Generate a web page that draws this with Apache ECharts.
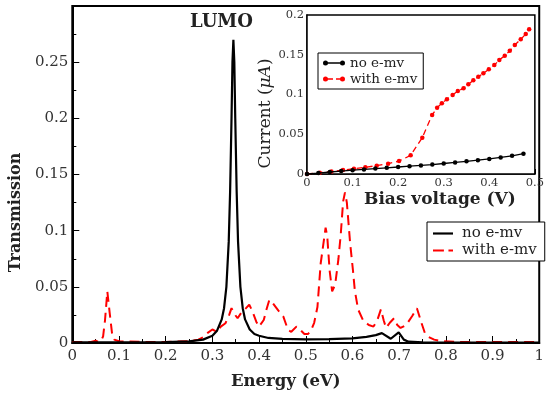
<!DOCTYPE html>
<html>
<head>
<meta charset="utf-8">
<script src="https://cdn.jsdelivr.net/npm/echarts@6/dist/echarts.min.js"></script>
<style>html,body{margin:0;padding:0;background:#fff}#c{width:547px;height:399px}</style>
</head>
<body>
<div id="c"></div>
<script>
// main panel: transmission vs energy
const energyNoEmv = [0, 0.1, 0.2, 0.25, 0.28, 0.3, 0.31, 0.32, 0.325, 0.33, 0.335, 0.338, 0.341, 0.343, 0.345, 0.347, 0.349, 0.352, 0.355, 0.36, 0.365, 0.37, 0.38, 0.39, 0.4, 0.42, 0.45, 0.5, 0.55, 0.6, 0.63, 0.65, 0.663, 0.682, 0.699, 0.71, 0.72, 0.75, 0.8, 1.0];
const transNoEmv = [0.0005, 0.0005, 0.0008, 0.0015, 0.003, 0.0065, 0.011, 0.021, 0.031, 0.05, 0.09, 0.135, 0.2, 0.25, 0.27, 0.25, 0.2, 0.135, 0.09, 0.05, 0.031, 0.021, 0.012, 0.008, 0.0065, 0.0045, 0.0037, 0.0033, 0.0034, 0.0042, 0.0055, 0.007, 0.0088, 0.0038, 0.0095, 0.003, 0.0012, 0.0005, 0.0004, 0.0003];
const energyEmv = [0, 0.04, 0.05, 0.056, 0.062, 0.066, 0.07, 0.075, 0.08, 0.085, 0.09, 0.1, 0.15, 0.2, 0.25, 0.27, 0.28, 0.29, 0.3, 0.31, 0.318, 0.328, 0.336, 0.341, 0.347, 0.354, 0.362, 0.372, 0.379, 0.385, 0.394, 0.4, 0.41, 0.416, 0.422, 0.429, 0.441, 0.452, 0.462, 0.469, 0.48, 0.49, 0.497, 0.505, 0.512, 0.518, 0.525, 0.532, 0.5425, 0.546, 0.551, 0.5565, 0.563, 0.57, 0.575, 0.58, 0.584, 0.588, 0.595, 0.601, 0.605, 0.612, 0.623, 0.635, 0.645, 0.653, 0.661, 0.667, 0.672, 0.68, 0.689, 0.696, 0.703, 0.715, 0.728, 0.738, 0.748, 0.755, 0.762, 0.775, 0.79, 0.82, 0.9, 1.0];
const transEmv = [0.001, 0.001, 0.002, 0.001, 0.002, 0.006, 0.02, 0.046, 0.027, 0.009, 0.003, 0.0015, 0.001, 0.001, 0.0015, 0.003, 0.005, 0.009, 0.012, 0.01, 0.0146, 0.0176, 0.025, 0.031, 0.026, 0.022, 0.027, 0.031, 0.034, 0.029, 0.019, 0.0146, 0.0205, 0.03, 0.0384, 0.0357, 0.029, 0.0235, 0.0116, 0.01, 0.0146, 0.011, 0.008, 0.008, 0.012, 0.018, 0.032, 0.071, 0.1026, 0.095, 0.065, 0.046, 0.052, 0.075, 0.097, 0.126, 0.134, 0.125, 0.089, 0.065, 0.047, 0.03, 0.02, 0.016, 0.0146, 0.02, 0.03, 0.02, 0.0134, 0.018, 0.022, 0.016, 0.0134, 0.016, 0.024, 0.031, 0.0176, 0.009, 0.0056, 0.003, 0.0018, 0.001, 0.0008, 0.0008];

// inset: current vs bias
const biasNoEmv = [0, 0.025, 0.05, 0.075, 0.1, 0.125, 0.15, 0.175, 0.2, 0.225, 0.25, 0.275, 0.3, 0.325, 0.35, 0.375, 0.4, 0.425, 0.45, 0.475];
const currentNoEmv = [0, 0.0012, 0.0025, 0.0037, 0.0048, 0.0058, 0.0068, 0.0078, 0.0088, 0.0098, 0.0108, 0.0118, 0.0132, 0.0145, 0.0159, 0.0174, 0.019, 0.0208, 0.0228, 0.0255];
const biasEmv = [0, 0.028, 0.0536, 0.079, 0.103, 0.128, 0.153, 0.178, 0.202, 0.2275, 0.253, 0.2746, 0.2855, 0.296, 0.307, 0.3196, 0.331, 0.3435, 0.354, 0.365, 0.376, 0.387, 0.399, 0.411, 0.422, 0.434, 0.445, 0.456, 0.469, 0.48, 0.4875];
const currentEmv = [0, 0.0017, 0.003, 0.005, 0.0067, 0.0084, 0.0105, 0.013, 0.0163, 0.0235, 0.0457, 0.0742, 0.0834, 0.089, 0.094, 0.0994, 0.1044, 0.1078, 0.1128, 0.118, 0.1224, 0.1266, 0.1317, 0.137, 0.1434, 0.1488, 0.155, 0.1623, 0.1694, 0.176, 0.182];

const insetNames = ["no e-mv ", "with e-mv "];

const zip = (xs, ys) => xs.map((x, i) => [x, ys[i]]);
const serif = "DejaVu Serif";
const tickStyle = (size) => ({ fontFamily: serif, fontSize: size, color: "#333" });

const chart = echarts.init(document.getElementById("c"), null, { renderer: "canvas" });

// legend samples drawn as paths so dots / dashes match the reference
const solidIcon = "path://M0,0L22,0L22,2.4L0,2.4Z";
const dashIcon = "path://M0,0L12,0L12,2.4L0,2.4ZM17,0L22,0L22,2.4L17,2.4Z";
const blackIcon = "path://M0,2.5A2.5,2.5 0 1,1 5,2.5A2.5,2.5 0 1,1 0,2.5ZM2.5,1.8L19.5,1.8L19.5,3.2L2.5,3.2ZM17,2.5A2.5,2.5 0 1,1 22,2.5A2.5,2.5 0 1,1 17,2.5Z";
const redIcon = "path://M0,2.5A2.5,2.5 0 1,1 5,2.5A2.5,2.5 0 1,1 0,2.5ZM4,1.8L10,1.8L10,3.2L4,3.2ZM13,1.8L18,1.8L18,3.2L13,3.2ZM17,2.5A2.5,2.5 0 1,1 22,2.5A2.5,2.5 0 1,1 17,2.5Z";

chart.setOption({
  animation: false,
  grid: [
    { left: 69, right: 1, top: 6, bottom: 56, show: true, borderColor: "#000", borderWidth: 2 },
    { left: 307, right: 10, top: 15, bottom: 225, show: true, borderColor: "#000", borderWidth: 1.5, backgroundColor: "#fff", z: 5 },
  ],
  graphic: [{ type: "text", left: 190, top: 13, z: 10, style: { text: "LUMO", font: `bold 18px "${serif}"`, fill: "#222" } }],
  legend: [
    {
      data: [{ name: "no e-mv", icon: solidIcon }, { name: "with e-mv", icon: dashIcon }],
      orient: "vertical", left: 427, top: 222, itemGap: 2, itemWidth: 20, itemHeight: 2.4,
      padding: [4, 8, 3, 6], borderColor: "#000", borderWidth: 1, backgroundColor: "#fff",
      textStyle: { fontFamily: serif, fontSize: 15, color: "#222", padding: [0, 0, 0, 4] },
    },
    {
      data: [{ name: insetNames[0], icon: blackIcon }, { name: insetNames[1], icon: redIcon }],
      orient: "vertical", left: 318, top: 53, itemGap: 2, itemWidth: 22, itemHeight: 5,
      padding: [3, 6, 3, 5], borderColor: "#000", borderWidth: 1, backgroundColor: "#fff", z: 10,
      formatter: (n) => n.trim(), textStyle: { fontFamily: serif, fontSize: 13.5, color: "#222" },
    },
  ],
  xAxis: [
    {
      type: "value", gridIndex: 0, min: 0, max: 1, interval: 0.1,
      name: "Energy (eV)", nameLocation: "middle", nameGap: 30,
      nameTextStyle: { fontFamily: serif, fontWeight: "bold", fontSize: 16.5, color: "#222", padding: [0, 40, 0, 0] },
      axisLine: { lineStyle: { color: "#000", width: 2 } },
      axisTick: { inside: true, length: 7, lineStyle: { color: "#000", width: 1 } },
      minorTick: { show: true, splitNumber: 2, length: 4, lineStyle: { color: "#000" } },
      axisLabel: { ...tickStyle(15), margin: 6 },
      splitLine: { show: false },
    },
    {
      type: "value", gridIndex: 1, min: 0, max: 0.5, interval: 0.1,
      name: "Bias voltage (V)", nameLocation: "middle", nameGap: 17,
      nameTextStyle: { fontFamily: serif, fontWeight: "bold", fontSize: 17, color: "#222", padding: [0, 0, 0, 38] },
      axisLine: { lineStyle: { color: "#000", width: 1.5 } },
      axisTick: { inside: true, length: 5, lineStyle: { color: "#000" } },
      minorTick: { show: true, splitNumber: 2, length: 3, lineStyle: { color: "#000" } },
      axisLabel: { ...tickStyle(11.5), margin: 3 },
      splitLine: { show: false },
    },
  ],
  yAxis: [
    {
      type: "value", gridIndex: 0, min: 0, max: 0.3, interval: 0.05,
      name: "Transmission", nameLocation: "middle", nameGap: 43,
      nameTextStyle: { fontFamily: serif, fontWeight: "bold", fontSize: 16, color: "#222", padding: [0, 76, 0, 0] },
      axisLine: { lineStyle: { color: "#000", width: 2 } },
      axisTick: { inside: true, length: 7, lineStyle: { color: "#000" } },
      minorTick: { show: true, splitNumber: 2, length: 4, lineStyle: { color: "#000" } },
      axisLabel: { ...tickStyle(15), margin: 4, showMaxLabel: false },
      splitLine: { show: false },
    },
    {
      type: "value", gridIndex: 1, min: 0, max: 0.2, interval: 0.05,
      name: "Current ({i|μA})", nameLocation: "middle", nameGap: 31,
      nameTextStyle: {
        fontFamily: serif, fontSize: 17, color: "#222", padding: [0, 38, 0, 0],
        rich: { i: { fontFamily: serif, fontSize: 17, fontStyle: "italic", color: "#222" } },
      },
      axisLine: { lineStyle: { color: "#000", width: 1.5 } },
      axisTick: { inside: true, length: 5, lineStyle: { color: "#000" } },
      minorTick: { show: true, splitNumber: 2, length: 3, lineStyle: { color: "#000" } },
      axisLabel: { ...tickStyle(11.5), margin: 3 },
      splitLine: { show: false },
    },
  ],
  series: [
    {
      name: "no e-mv", type: "line", xAxisIndex: 0, yAxisIndex: 0, symbol: "none", z: 3,
      data: zip(energyNoEmv, transNoEmv), lineStyle: { color: "#000", width: 2.2 }, itemStyle: { color: "#000" },
    },
    {
      name: "with e-mv", type: "line", xAxisIndex: 0, yAxisIndex: 0, symbol: "none", z: 2,
      data: zip(energyEmv, transEmv), lineStyle: { color: "#f00", width: 2, type: [10, 6] }, itemStyle: { color: "#f00" },
    },
    {
      name: insetNames[0], type: "line", xAxisIndex: 1, yAxisIndex: 1, symbol: "circle", symbolSize: 4.5, z: 7,
      data: zip(biasNoEmv, currentNoEmv), lineStyle: { color: "#000", width: 1.3 }, itemStyle: { color: "#000" },
    },
    {
      name: insetNames[1], type: "line", xAxisIndex: 1, yAxisIndex: 1, symbol: "circle", symbolSize: 4.5, z: 6,
      data: zip(biasEmv, currentEmv), lineStyle: { color: "#f00", width: 1.3, type: [6, 4] }, itemStyle: { color: "#f00" },
    },
  ],
});
</script>
</body>
</html>
